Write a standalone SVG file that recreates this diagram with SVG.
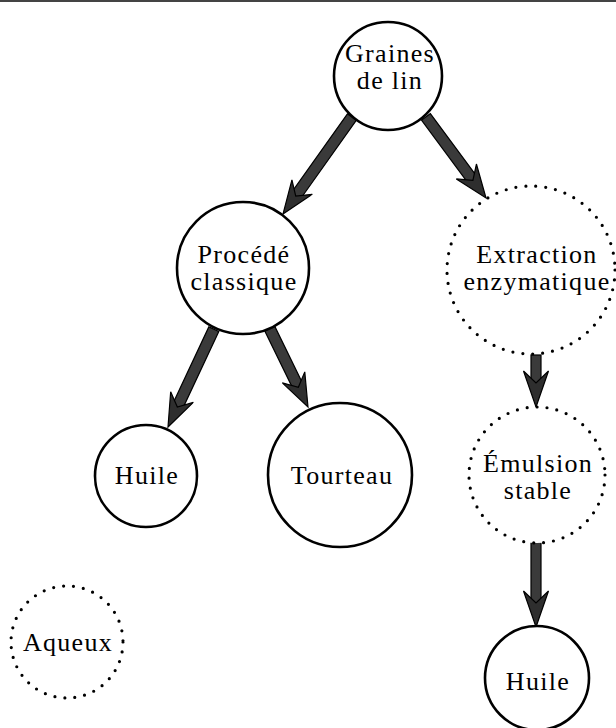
<svg xmlns="http://www.w3.org/2000/svg" width="616" height="728" viewBox="0 0 616 728">
<style>
.solid{fill:#fff;stroke:#000;stroke-width:2.6}
.dotted{fill:#fff;stroke:#000;stroke-width:3.2;stroke-linecap:round;stroke-dasharray:0 10}
.lbl{font-family:"Liberation Serif","DejaVu Serif",serif;font-size:26px;fill:#000;text-anchor:middle;letter-spacing:1.3px}
.shaft{fill:#3a3a3a;stroke:#000;stroke-width:1.2}
.head{fill:#2e2e2e;stroke:#000;stroke-width:1.2;stroke-linejoin:miter}
</style>
<rect width="616" height="728" fill="#fff"/>
<line x1="0" y1="1" x2="616" y2="1" stroke="#444" stroke-width="2"/>
<g id="connectors">
<g transform="translate(283,214) rotate(125.4)"><rect class="shaft" x="-119" y="-5.5" width="97" height="11"/><path class="head" d="M0,0 L-33,-12.5 L-22,0 L-33,12.5 Z"/></g>
<g transform="translate(486,198) rotate(53.5)"><rect class="shaft" x="-101" y="-5.5" width="79" height="11"/><path class="head" d="M0,0 L-33,-12.5 L-22,0 L-33,12.5 Z"/></g>
<g transform="translate(168,427) rotate(115.1)"><rect class="shaft" x="-108" y="-5.5" width="86" height="11"/><path class="head" d="M0,0 L-33,-12.5 L-22,0 L-33,12.5 Z"/></g>
<g transform="translate(308,407) rotate(64)"><rect class="shaft" x="-87" y="-5.5" width="65" height="11"/><path class="head" d="M0,0 L-33,-12.5 L-22,0 L-33,12.5 Z"/></g>
<g transform="translate(536,407) rotate(90)"><rect class="shaft" x="-52" y="-5" width="30" height="10"/><path class="head" d="M0,0 L-36,-12.5 L-24,0 L-36,12.5 Z"/></g>
<g transform="translate(536,627) rotate(90)"><rect class="shaft" x="-85" y="-5" width="61" height="10"/><path class="head" d="M0,0 L-36,-12.5 L-24,0 L-36,12.5 Z"/></g>
</g>
<g id="graines"><circle class="solid" cx="388" cy="76" r="54"/><text class="lbl" x="390" y="62">Graines</text><text class="lbl" x="390" y="89">de lin</text></g>
<g id="procede"><circle class="solid" cx="243" cy="268" r="66"/><text class="lbl" x="244" y="263">Procédé</text><text class="lbl" x="244" y="290">classique</text></g>
<g id="extraction"><circle class="dotted" cx="531" cy="270" r="84"/><text class="lbl" x="537" y="263">Extraction</text><text class="lbl" x="537" y="290">enzymatique</text></g>
<g id="huile1"><circle class="solid" cx="146" cy="476" r="51"/><text class="lbl" x="147" y="484">Huile</text></g>
<g id="tourteau"><circle class="solid" cx="340" cy="475" r="72"/><text class="lbl" x="342" y="484">Tourteau</text></g>
<g id="emulsion"><circle class="dotted" cx="537" cy="475" r="68"/><text class="lbl" x="538" y="472">Émulsion</text><text class="lbl" x="538" y="499">stable</text></g>
<g id="huile2"><circle class="solid" cx="537" cy="678" r="52"/><text class="lbl" x="538" y="690">Huile</text></g>
<g id="aqueux"><circle class="dotted" cx="67" cy="642" r="56"/><text class="lbl" x="68" y="651">Aqueux</text></g>
</svg>
